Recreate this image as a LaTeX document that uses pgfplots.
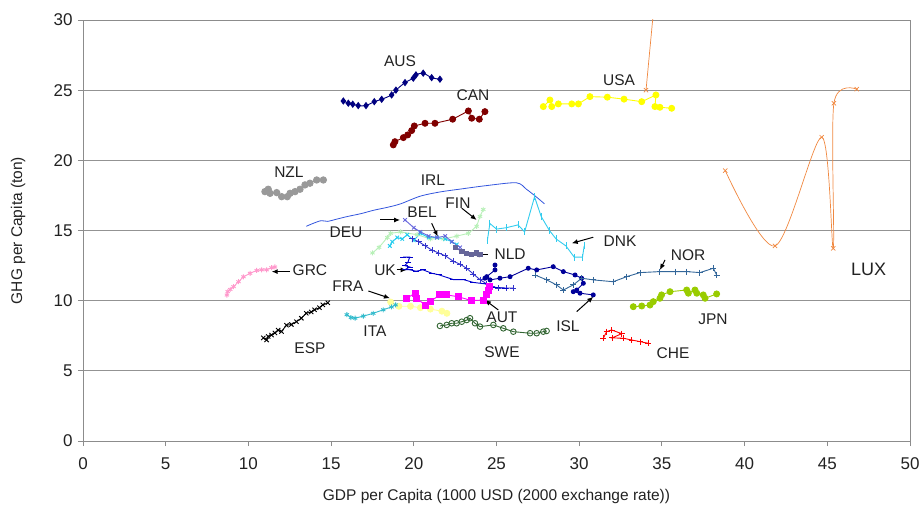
\documentclass[border=0pt]{standalone}
\usepackage{pgfplots}
\pgfplotsset{compat=1.18}
\usepackage{fontspec}
\setmainfont{Liberation Sans}
\usetikzlibrary{arrows.meta}
\definecolor{cAUS}{HTML}{000080}
\definecolor{cCAN}{HTML}{800000}
\definecolor{cUSA}{HTML}{FFFF00}
\definecolor{cLUX}{HTML}{F08840}
\definecolor{cNZL}{HTML}{999999}
\definecolor{cIRL}{HTML}{3355DD}
\definecolor{cGRC}{HTML}{FF99CC}
\definecolor{cESP}{HTML}{000000}
\definecolor{cITA}{HTML}{33BBCC}
\definecolor{cFRA}{HTML}{FFFF99}
\definecolor{cAUT}{HTML}{FF00FF}
\definecolor{cSWE}{HTML}{336633}
\definecolor{cISL}{HTML}{000099}
\definecolor{cNOR}{HTML}{336699}
\definecolor{cJPN}{HTML}{99CC00}
\definecolor{cCHE}{HTML}{FF0000}
\definecolor{cDNK}{HTML}{33CCEE}
\definecolor{cFIN}{HTML}{B8F0B8}
\definecolor{cDEU}{HTML}{22CCEE}
\definecolor{cNLD}{HTML}{666699}
\definecolor{cBEL}{HTML}{3333CC}
\definecolor{cUK}{HTML}{0000CC}
\definecolor{cBLX}{HTML}{6666DD}
\definecolor{txt}{HTML}{222222}
\begin{document}
\begin{tikzpicture}[lab/.style={font=\fontsize{15.5}{17}\selectfont, text=txt}]
\begin{axis}[
  at={(0,0)}, anchor=south west,
  scale only axis, width=827pt, height=421pt,
  xmin=0, xmax=50, ymin=0, ymax=30,
  xtick={0,5,...,50}, ytick={0,5,...,30},
  ymajorgrids, grid style={draw=gray!85, line width=0.9pt},
  axis line style={draw=gray!90, line width=0.9pt},
  tick style={draw=gray!90, line width=0.9pt}, tick align=outside, major tick length=5pt,
  xtick pos=left, ytick pos=left,
  ticklabel style={font=\fontsize{17}{20}\selectfont, text=txt},
  xticklabel style={yshift=-8pt},
  yticklabel style={xshift=-2pt},
  /pgf/number format/assume math mode=true,
  xlabel={GDP per Capita (1000 USD (2000 exchange rate))},
  ylabel={GHG per Capita (ton)},
  label style={font=\fontsize{15.5}{18}\selectfont, text=txt},
  xlabel style={at={(axis description cs:0.5,-0.133)}, anchor=center},
  ylabel style={at={(axis description cs:-0.0786,0.5)}, anchor=center},
  every axis plot/.append style={line width=0.9pt},
  clip=true,
]
% AUS
\addplot[cAUS, smooth, mark=diamond*, mark size=3pt] coordinates {
(15.74,24.23)(16.04,24.07)(16.31,24.0)(16.64,23.9)(17.11,23.9)(17.61,24.18)(18.06,24.35)(18.66,24.66)(18.92,25.0)(19.47,25.54)(19.97,25.85)(20.13,26.09)(20.57,26.21)(21.08,25.89)(21.58,25.78)};
% CAN
\addplot[cCAN, mark=*, mark size=3pt] coordinates {
(18.76,21.10)(18.86,21.33)(19.37,21.62)(19.63,21.81)(19.87,22.12)(20.03,22.45)(20.68,22.64)(21.28,22.64)(22.35,22.93)(23.30,23.52)(23.50,23.0)(23.96,22.93)(24.30,23.47)};
% USA
\addplot[cUSA, mark=*, mark size=3pt] coordinates {
(27.83,23.83)(28.23,24.30)(28.34,23.83)(28.74,24.02)(29.55,24.02)(29.95,24.02)(30.65,24.54)(31.70,24.50)(32.71,24.36)(33.78,24.18)(34.64,24.66)(34.58,23.83)(34.88,23.78)(35.59,23.71)};
% LUX
\addplot[cLUX, line width=0.7pt, mark=x, mark size=3pt, mark indices={1}] coordinates {(34.04,25.0)(34.6,32.0)};
\addplot[cLUX, line width=0.7pt, smooth, mark=x, mark size=3pt] coordinates {
(38.83,19.27)(41.84,13.90)(44.66,21.65)(45.36,13.73)(45.40,24.07)(46.78,25.07)};
% NZL
\addplot[cNZL, mark=*, mark size=3.2pt] coordinates {
(11.0,17.77)(11.20,17.94)(11.31,17.65)(11.71,17.70)(12.01,17.41)(12.35,17.41)(12.52,17.65)(12.82,17.77)(13.12,17.94)(13.42,18.25)(13.72,18.37)(14.13,18.60)(14.53,18.60)};
% IRL
\addplot[cIRL, line width=0.8pt, smooth] coordinates {
(13.5,15.3)(13.9,15.5)(14.4,15.7)(14.8,15.65)(15.3,15.8)(16.0,16.0)(16.8,16.2)(17.6,16.45)(18.4,16.65)(19.2,16.9)(20.4,17.45)(21.6,17.75)(22.8,17.95)(24.4,18.2)(26.2,18.4)(26.8,17.95)(27.4,17.4)(27.9,16.9)};
% FIN
\addplot[cFIN, mark=asterisk, mark size=2.5pt] coordinates {
(17.5,13.4)(17.9,13.8)(18.4,14.5)(18.6,14.8)(19.2,14.9)(20.2,14.7)(21.0,14.4)(21.8,14.4)(22.6,14.6)(23.3,14.8)(23.8,15.3)(24.0,16.0)(24.2,16.5)};
% DEU (cyan cluster)
\addplot[cDEU, mark=x, mark size=2.5pt] coordinates {
(18.55,13.9)(18.7,14.2)(19.0,14.5)(19.3,14.4)(19.6,14.7)(20.0,14.3)(20.4,14.8)(20.9,14.5)(21.4,14.5)(21.9,14.4)(22.3,14.2)(22.6,14.0)};
% BEL-like x series
\addplot[cBLX, mark=x, mark size=2.5pt] coordinates {
(19.47,15.75)(20.0,15.2)(20.4,14.9)(20.9,14.6)(21.4,14.5)(21.9,14.6)(22.3,14.2)(22.8,13.8)};
% NLD
\addplot[cNLD, mark=square*, mark size=2.2pt] coordinates {
(22.5,13.8)(22.9,13.5)(23.2,13.35)(23.5,13.3)(23.8,13.4)(24.0,13.3)};
% BEL
\addplot[cBEL, mark=+, mark size=3pt] coordinates {
(19.9,14.4)(20.3,14.2)(20.7,13.9)(21.1,13.6)(21.5,13.4)(21.9,13.2)(22.4,12.8)(22.8,12.6)(23.2,12.3)(23.6,11.9)(24.0,11.5)(24.4,11.2)(24.7,11.0)(25.1,10.9)(25.6,10.9)(26.0,10.9)};
% UK
\addplot[cUK, mark=-, mark size=3pt] coordinates {
(19.35,13.1)(19.75,13.1)(19.65,12.75)(19.45,12.5)(19.75,12.4)(19.45,12.2)(19.75,12.2)(20.15,12.1)(20.55,12.2)(21.1,11.95)(21.5,11.85)(22.4,11.5)(23.0,11.5)(23.6,11.3)(24.3,11.2)(24.9,10.95)(25.5,10.9)};
% DNK
\addplot[cDNK, mark=|, mark size=3.5pt] coordinates {
(24.45,14.3)(24.6,15.5)(25.0,15.1)(25.6,15.2)(26.3,15.4)(26.7,14.9)(27.3,17.4)(27.7,16.0)(28.2,15.0)(28.6,14.4)(29.2,13.9)(29.7,13.1)(30.2,13.1)(30.3,13.9)};
% ISL
\addplot[cISL, mark=oplus*, mark size=2pt] coordinates {
(24.91,12.54)(24.91,12.19)(24.41,11.71)(24.3,11.6)(24.61,11.48)(25.21,11.6)(25.82,11.71)(26.92,12.31)(27.43,12.19)(28.43,12.42)(29.04,12.07)(29.75,11.83)(30.15,11.6)(30.25,11.24)(29.85,10.76)(29.64,10.64)(30.05,10.53)(30.85,10.41)};
% NOR
\addplot[cNOR, mark=+, mark size=3pt] coordinates {
(27.33,11.83)(28.04,11.48)(28.63,11.12)(29.04,10.76)(29.64,11.12)(30.15,11.6)(30.85,11.48)(32.06,11.35)(32.87,11.71)(33.68,12.0)(34.88,12.07)(35.79,12.07)(36.5,12.07)(37.30,12.0)(38.11,12.31)(38.31,11.83)};
% JPN
\addplot[cJPN, mark=*, mark size=3pt] coordinates {
(33.27,9.57)(33.78,9.62)(34.28,9.69)(34.48,9.93)(34.88,10.17)(34.98,10.41)(35.49,10.64)(36.50,10.76)(36.60,10.53)(37.0,10.76)(37.11,10.53)(37.50,10.41)(37.61,10.17)(38.31,10.48)};
% CHE
\addplot[cCHE, mark=+, mark size=3pt] coordinates {
(31.46,7.32)(31.66,7.79)(31.96,7.91)(32.57,7.65)(32.0,7.35)(32.67,7.32)(33.17,7.20)(33.68,7.08)(34.18,6.96)};
% SWE
\addplot[cSWE, mark=o, mark size=2.8pt] coordinates {
(21.58,8.20)(21.99,8.27)(22.29,8.39)(22.59,8.39)(22.90,8.50)(23.20,8.62)(23.40,8.75)(23.70,8.39)(24.0,8.15)(24.81,8.27)(25.41,8.03)(26.02,7.79)(27.03,7.68)(27.43,7.68)(27.83,7.79)(28.03,7.84)};
% FRA
\addplot[cFRA, mark=*, mark size=3pt] coordinates {
(18.6,9.9)(19.1,9.6)(19.8,9.6)(20.4,9.5)(21.0,9.4)(21.7,9.25)(22.0,9.1)};
% AUT
\addplot[cAUT, mark=square*, mark size=3pt] coordinates {
(19.57,10.17)(20.07,10.53)(20.18,10.17)(20.68,9.69)(20.98,9.93)(21.58,10.41)(21.99,10.41)(22.69,10.28)(23.50,10.0)(24.20,10.05)(24.41,10.41)(24.50,10.76)(24.55,11.0)};
% ITA
\addplot[cITA, mark=asterisk, mark size=2.5pt] coordinates {
(15.95,9.0)(16.2,8.8)(16.45,8.75)(16.95,8.9)(17.55,9.1)(18.15,9.35)(18.65,9.55)(18.9,9.7)};
% ESP
\addplot[cESP, mark=x, mark size=3pt] coordinates {
(10.9,7.35)(11.1,7.2)(11.2,7.45)(11.4,7.55)(11.6,7.7)(11.8,7.9)(12.0,7.8)(12.3,8.25)(12.6,8.3)(12.9,8.5)(13.2,8.75)(13.5,9.1)(13.8,9.2)(14.0,9.35)(14.3,9.5)(14.5,9.7)(14.8,9.85)};
% GRC
\addplot[cGRC, mark=asterisk, mark size=2.5pt] coordinates {
(8.7,10.4)(8.75,10.65)(8.9,10.8)(9.1,11.0)(9.4,11.35)(9.7,11.7)(10.1,11.95)(10.5,12.15)(10.8,12.2)(11.1,12.2)(11.4,12.35)(11.6,12.4)};
% labels
\node[lab] at (axis cs:19.17,27.08) {AUS};
\node[lab] at (axis cs:23.58,24.66) {CAN};
\node[lab] at (axis cs:32.41,25.73) {USA};
\node[lab] at (axis cs:12.45,19.17) {NZL};
\node[lab] at (axis cs:21.16,18.60) {IRL};
\node[lab] at (axis cs:20.5,16.32) {BEL};
\node[lab] at (axis cs:22.67,16.96) {FIN};
\node[lab] at (axis cs:15.9,14.9) {DEU};
\node[lab] at (axis cs:32.47,14.26) {DNK};
\node[lab] at (axis cs:25.82,13.33) {NLD};
\node[lab] at (axis cs:36.58,13.26) {NOR};
\node[lab] at (axis cs:13.72,12.19) {GRC};
\node[lab] at (axis cs:18.26,12.19) {UK};
\node[lab] at (axis cs:16.02,11.05) {FRA};
\node[lab, font=\fontsize{18}{20}\selectfont] at (axis cs:47.5,12.26) {LUX};
\node[lab] at (axis cs:25.33,8.84) {AUT};
\node[lab] at (axis cs:38.09,8.70) {JPN};
\node[lab] at (axis cs:17.65,7.84) {ITA};
\node[lab] at (axis cs:29.32,8.20) {ISL};
\node[lab] at (axis cs:13.72,6.63) {ESP};
\node[lab] at (axis cs:25.33,6.34) {SWE};
\node[lab] at (axis cs:35.67,6.27) {CHE};
% arrows
\begin{scope}[-{Latex[length=6pt,width=5pt]}, line width=1pt, black]
\draw (axis cs:12.52,12.07) -- (axis cs:11.41,12.07);
\draw (axis cs:18.96,12.19) -- (axis cs:19.57,12.19);
\draw (axis cs:17.25,10.69) -- (axis cs:18.56,10.17);
\draw (axis cs:17.96,15.75) -- (axis cs:19.17,15.75);
\draw (axis cs:21.08,15.52) -- (axis cs:21.45,14.56);
\draw (axis cs:22.9,16.59) -- (axis cs:23.8,15.75);
\draw (axis cs:24.5,13.26) -- (axis cs:23.6,13.26);
\draw (axis cs:30.85,14.52) -- (axis cs:29.55,14.09);
\draw (axis cs:35.19,12.9) -- (axis cs:34.88,12.19);
\draw (axis cs:29.85,9.22) -- (axis cs:30.85,10.28);
\draw (axis cs:25.11,9.34) -- (axis cs:24.3,10.05);
\end{scope}
\end{axis}
\draw[gray!90, line width=0.9pt] (827pt,0pt) -- (827pt,421pt);
\pgfresetboundingbox
\path[use as bounding box] (-83pt,-73pt) rectangle (841pt,441pt);
\end{tikzpicture}
\end{document}
